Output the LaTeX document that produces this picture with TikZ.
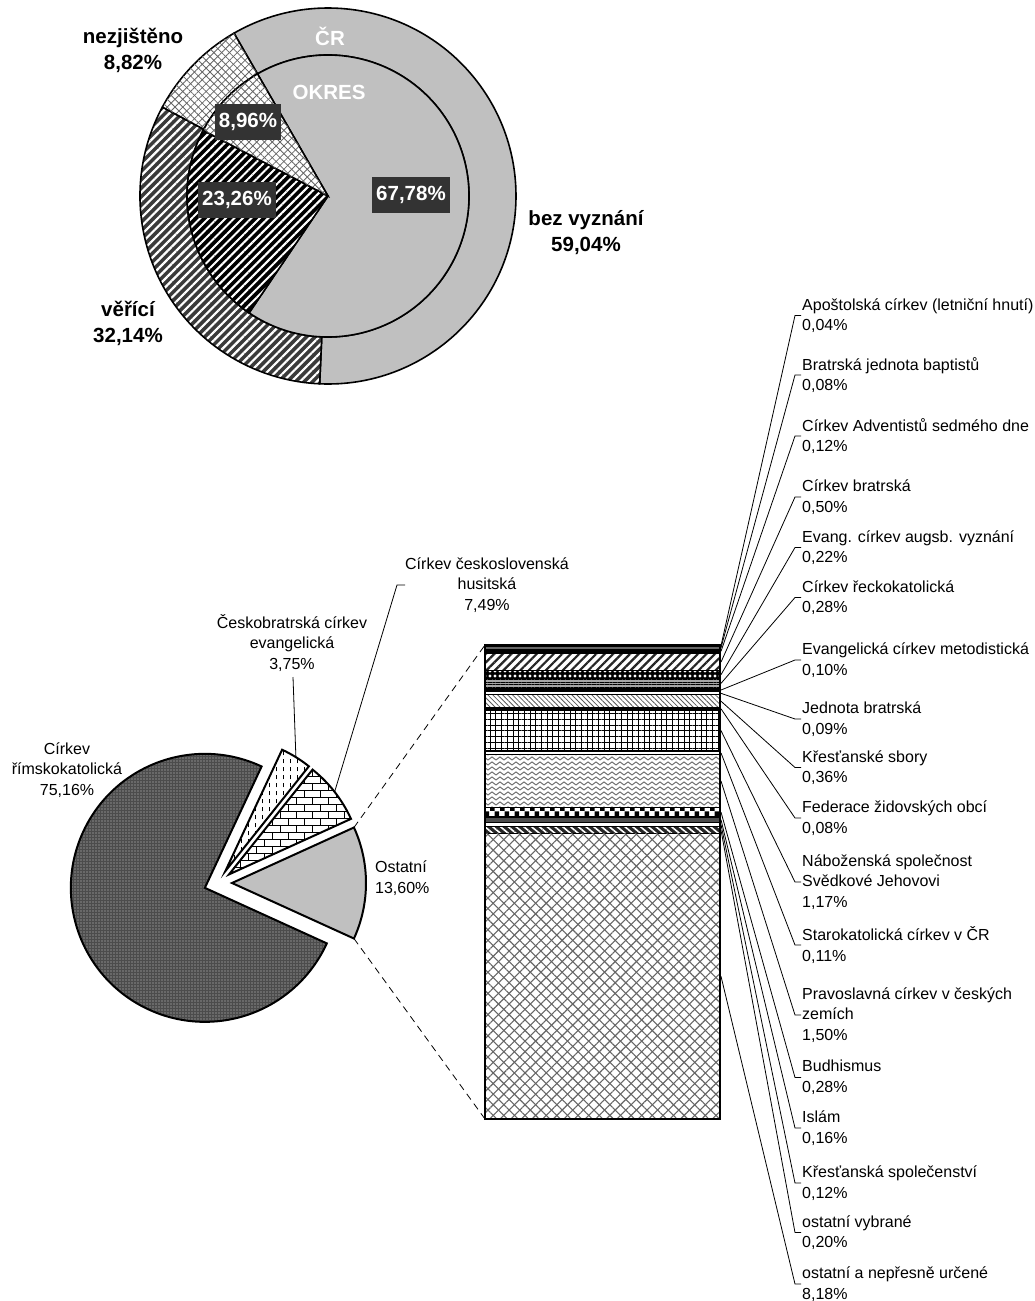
\documentclass[tikz,border=0pt]{standalone}
\usepackage{fontspec}
\setmainfont{Liberation Sans}
\usetikzlibrary{patterns,patterns.meta}
\definecolor{pgray}{HTML}{C0C0C0}
\definecolor{boxc}{HTML}{333333}
\definecolor{hatchbg}{HTML}{3A3A3A}

\pgfdeclarepatternformonly{vdashes}{\pgfqpoint{-1pt}{-1pt}}{\pgfqpoint{8pt}{9pt}}{\pgfqpoint{7pt}{8pt}}{%
  \pgfsetlinewidth{0.8pt}%
  \pgfpathmoveto{\pgfqpoint{3.5pt}{1.5pt}}\pgfpathlineto{\pgfqpoint{3.5pt}{5.5pt}}%
  \pgfusepath{stroke}}
\pgfdeclarepatternformonly{mybricks}{\pgfqpoint{-1pt}{-1pt}}{\pgfqpoint{17pt}{15pt}}{\pgfqpoint{16pt}{14pt}}{%
  \pgfsetlinewidth{0.8pt}%
  \pgfpathmoveto{\pgfqpoint{0pt}{0pt}}\pgfpathlineto{\pgfqpoint{16pt}{0pt}}%
  \pgfpathmoveto{\pgfqpoint{0pt}{7pt}}\pgfpathlineto{\pgfqpoint{16pt}{7pt}}%
  \pgfpathmoveto{\pgfqpoint{0pt}{0pt}}\pgfpathlineto{\pgfqpoint{0pt}{7pt}}%
  \pgfpathmoveto{\pgfqpoint{8pt}{7pt}}\pgfpathlineto{\pgfqpoint{8pt}{14pt}}%
  \pgfusepath{stroke}}
\pgfdeclarepatternformonly{zigzag}{\pgfqpoint{-1pt}{-1pt}}{\pgfqpoint{9pt}{6pt}}{\pgfqpoint{8pt}{5pt}}{%
  \pgfsetlinewidth{1pt}%
  \pgfpathmoveto{\pgfqpoint{0pt}{1pt}}\pgfpathlineto{\pgfqpoint{4pt}{4pt}}\pgfpathlineto{\pgfqpoint{8pt}{1pt}}%
  \pgfusepath{stroke}}
\pgfdeclarepatternformonly{checker}{\pgfqpoint{0pt}{0pt}}{\pgfqpoint{10pt}{10pt}}{\pgfqpoint{10pt}{10pt}}{%
  \pgfpathrectangle{\pgfqpoint{0pt}{0pt}}{\pgfqpoint{5pt}{5pt}}%
  \pgfpathrectangle{\pgfqpoint{5pt}{5pt}}{\pgfqpoint{5pt}{5pt}}%
  \pgfusepath{fill}}

\tikzset{
  bl/.style={align=center, inner sep=0pt, font=\bfseries\fontsize{20.5}{26}\selectfont},
  darkbox/.style={fill=boxc, text=white, inner xsep=4pt, inner ysep=0pt, minimum height=36pt, font=\bfseries\fontsize{20.5}{24}\selectfont},
  rl/.style={anchor=west, align=left, inner sep=0pt, font=\fontsize{16}{20.6}\selectfont},
  pl/.style={align=center, inner sep=0pt, font=\fontsize{16}{20.6}\selectfont},
  ring/.style={draw=black, line width=1.6pt},
  slice/.style={draw=black, line width=2pt},
  seg/.style={draw=black, line width=1.1pt},
  leader/.style={draw=black, line width=0.8pt},
  dashlead/.style={draw=black, line width=0.8pt, dash pattern=on 7pt off 5pt},
}

\begin{document}
\begin{tikzpicture}[x=1pt,y=1pt]
\useasboundingbox (0,0) rectangle (1035,-1301);

% ---------------- Donut (CR outer, OKRES inner) ----------------
\begin{scope}[shift={(328,-196)}]
  % outer ring
  \draw[ring, fill=pgray] (-92.54:188) arc[start angle=-92.54,end angle=120,radius=188]
      -- (120:141) arc[start angle=120,end angle=-92.54,radius=141] -- cycle;
  \draw[ring, pattern={Lines[angle=45,distance=6pt,line width=2.2pt]}, pattern color=white, preaction={fill=hatchbg}]
      (151.76:188) arc[start angle=151.76,end angle=267.46,radius=188]
      -- (267.46:141) arc[start angle=267.46,end angle=151.76,radius=141] -- cycle;
  \draw[ring, pattern={Lines[angle=45,distance=5.5pt,line width=0.8pt]}, pattern color=black!60,
        postaction={pattern={Lines[angle=-45,distance=5.5pt,line width=0.8pt]}, pattern color=black!60},
        preaction={fill=white}]
      (120:188) arc[start angle=120,end angle=151.76,radius=188]
      -- (151.76:141) arc[start angle=151.76,end angle=120,radius=141] -- cycle;
  % inner pie
  \draw[ring, fill=pgray] (0,0) -- (-124.01:141) arc[start angle=-124.01,end angle=120,radius=141] -- cycle;
  \draw[ring, pattern={Lines[angle=45,distance=6pt,line width=2pt]}, pattern color=white, preaction={fill=black}]
      (0,0) -- (152.25:141) arc[start angle=152.25,end angle=235.99,radius=141] -- cycle;
  \draw[ring, pattern={Lines[angle=45,distance=5.5pt,line width=0.8pt]}, pattern color=black!60,
        postaction={pattern={Lines[angle=-45,distance=5.5pt,line width=0.8pt]}, pattern color=black!60},
        preaction={fill=white}]
      (0,0) -- (120:141) arc[start angle=120,end angle=152.25,radius=141] -- cycle;
\end{scope}

\node[bl, text=white] (cr) at (330,-36) {ČR};
\node[bl, text=white] (okres) at (329,-92) {OKRES};
\node[darkbox] (p896) at (248,-122) {8,96\%};
\node[darkbox] (p2326) at (237,-200) {23,26\%};
\node[darkbox] (p6778) at (411,-195) {67,78\%};
\node[bl] (nezj) at (133,-50) {nezjištěno\\8,82\%};
\node[bl] (bez) at (586,-233) {bez vyznání\\59,04\%};
\node[bl] (ver) at (128,-323) {věřící\\32,14\%};

% ---------------- Pie ----------------
\draw[slice, pattern={Dots[radius=0.6pt,distance=3pt]}, pattern color=white!80!black, preaction={fill=black!70}]
  (204.86,-887.85) coordinate (apexR) -- ++(64.944:134) arc[start angle=64.944,end angle=335.52,radius=134] -- cycle;
\draw[slice, pattern=vdashes, pattern color=black, preaction={fill=white}]
  (225.37,-871.09) coordinate (apexE) -- ++(51.444:134) arc[start angle=51.444,end angle=64.944,radius=134] -- cycle;
\draw[slice, pattern=mybricks, pattern color=black, preaction={fill=white}]
  (229.03,-874.38) coordinate (apexH) -- ++(24.48:134) arc[start angle=24.48,end angle=51.444,radius=134] -- cycle;
\draw[slice, fill=pgray]
  (232,-883) coordinate (apexO) -- ++(-24.48:134) arc[start angle=-24.48,end angle=24.48,radius=134] -- cycle;

\coordinate (ouTop) at (353.96,-827.47);
\coordinate (ouBot) at (353.96,-938.53);
\coordinate (midE) at (295.9,-757.1);
\coordinate (midH) at (334.6,-791.9);

\node[pl] (lR) at (67,-770) {Církev\\římskokatolická\\75,16\%};
\node[pl] (lE) at (292,-643) {Českobratrská církev\\evangelická\\3,75\%};
\node[pl] (lH) at (487,-585) {Církev československá\\husitská\\7,49\%};
\node[rl] (lO) at (375,-878) {Ostatní\\13,60\%};

\coordinate (tE) at (293,-677);
\coordinate (tH1) at (405,-585);
\coordinate (tH2) at (397,-585);
\draw[leader] (tE) -- (midE);
\draw[leader] (tH1) -- (tH2) -- (midH);

% ---------------- Bar ----------------
\coordinate (barTL) at (485,-645);
\coordinate (barBL) at (485,-1119);
\draw[dashlead] (ouTop) -- (barTL);
\draw[dashlead] (ouBot) -- (barBL);

\draw[seg, fill=black] (485,-645.00) rectangle (720,-646.40);
\draw[seg, fill=black!60] (485,-646.40) rectangle (720,-649.19);
\draw[seg, fill=black] (485,-649.19) rectangle (720,-653.37);
\draw[seg, pattern={Lines[angle=45,distance=6pt,line width=2.2pt]}, pattern color=black!85, preaction={fill=white}] (485,-653.37) rectangle (720,-670.81);
\draw[seg, pattern={Dots[radius=1.6pt,distance=5pt]}, pattern color=white, preaction={fill=black}] (485,-670.81) rectangle (720,-678.48);
\draw[seg, pattern={Lines[angle=0,distance=2.6pt,line width=0.9pt]}, pattern color=black, preaction={fill=black!35}] (485,-678.48) rectangle (720,-688.25);
\draw[seg, fill=black] (485,-688.25) rectangle (720,-691.74);
\draw[seg, fill=white] (485,-691.74) rectangle (720,-694.88);
\draw[seg, pattern={Lines[angle=-45,distance=3.5pt,line width=0.8pt]}, pattern color=black!65, preaction={fill=white}] (485,-694.88) rectangle (720,-707.43);
\draw[seg, fill=black] (485,-707.43) rectangle (720,-710.22);
\draw[seg, pattern={Lines[angle=0,distance=5.7pt,line width=1pt]}, pattern color=black,
      postaction={pattern={Lines[angle=90,distance=5.7pt,line width=1pt]}, pattern color=black},
      preaction={fill=white}] (485,-710.22) rectangle (720,-751.03);
\draw[seg, fill=white] (485,-751.03) rectangle (720,-754.86);
\draw[seg, pattern=zigzag, pattern color=black!55, preaction={fill=white}] (485,-754.86) rectangle (720,-807.18);
\draw[seg, pattern=checker, pattern color=black, preaction={fill=white}] (485,-807.18) rectangle (720,-816.95);
\draw[seg, fill=black!70] (485,-816.95) rectangle (720,-822.53);
\draw[seg, fill=white] (485,-822.53) rectangle (720,-826.71);
\draw[seg, pattern={Lines[angle=-40,distance=5pt,line width=1.6pt]}, pattern color=white, preaction={fill=black!85}] (485,-826.71) rectangle (720,-833.69);
\draw[seg, pattern={Lines[angle=45,distance=7.5pt,line width=1.1pt]}, pattern color=black!60,
      postaction={pattern={Lines[angle=-45,distance=7.5pt,line width=1.1pt]}, pattern color=black!60},
      preaction={fill=white}] (485,-833.69) rectangle (720,-1119);
\draw[draw=black, line width=2.5pt] (485,-645) rectangle (720,-1119);

% bar anchor points (segment middles)
\foreach \i/\y in {1/645.70,2/647.79,3/651.28,4/662.09,5/674.65,6/683.37,7/690.00,8/693.30,9/701.20,
                   10/708.80,11/730.60,12/752.90,13/781.00,14/812.10,15/819.70,16/824.60,17/830.20,18/976.30}
  \coordinate (b\i) at (721,-\y);

% labels
\node[rl] (l1) at (802,-315.5) {Apoštolská církev (letniční hnutí)\\0,04\%};
\node[rl] (l2) at (802,-375) {Bratrská jednota baptistů\\0,08\%};
\node[rl] (l3) at (802,-436) {Církev Adventistů sedmého dne\\0,12\%};
\node[rl] (l4) at (802,-497) {Církev bratrská\\0,50\%};
\node[rl] (l5) at (802,-547.5) {Evang. církev augsb. vyznání\\0,22\%};
\node[rl] (l6) at (802,-597.5) {Církev řeckokatolická\\0,28\%};
\node[rl] (l7) at (802,-660) {Evangelická církev metodistická\\0,10\%};
\node[rl] (l8) at (802,-719) {Jednota bratrská\\0,09\%};
\node[rl] (l9) at (802,-767.5) {Křesťanské sbory\\0,36\%};
\node[rl] (l10) at (802,-818) {Federace židovských obcí\\0,08\%};
\node[rl] (l11) at (802,-882) {Náboženská společnost\\Svědkové Jehovovi\\1,17\%};
\node[rl] (l12) at (802,-945) {Starokatolická církev v ČR\\0,11\%};
\node[rl] (l13) at (802,-1015) {Pravoslavná církev v českých\\zemích\\1,50\%};
\node[rl] (l14) at (802,-1077.5) {Budhismus\\0,28\%};
\node[rl] (l15) at (802,-1128) {Islám\\0,16\%};
\node[rl] (l16) at (802,-1183) {Křesťanská společenství\\0,12\%};
\node[rl] (l17) at (802,-1232.5) {ostatní vybrané\\0,20\%};
\node[rl] (l18) at (802,-1284) {ostatní a nepřesně určené\\8,18\%};

\foreach \i in {1,...,18}
  \draw[leader] (b\i) -- ([xshift=-7pt]l\i.west) -- ([xshift=-1pt]l\i.west);
\end{tikzpicture}
\end{document}
